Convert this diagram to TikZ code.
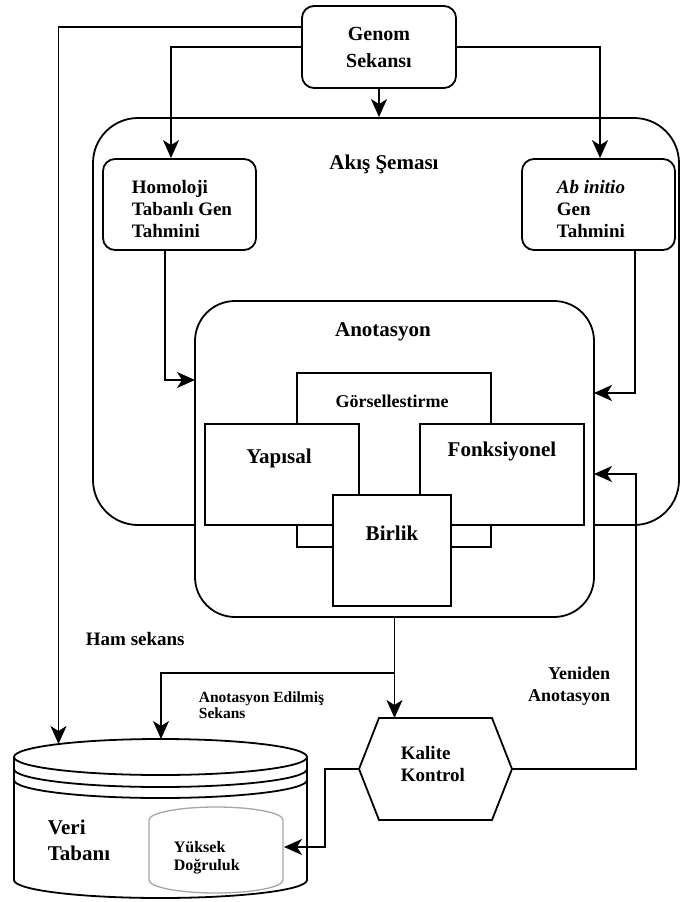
\documentclass[tikz,border=0pt]{standalone}
\usepackage{fontspec}
\setmainfont{Liberation Serif}
\usetikzlibrary{arrows.meta}
\begin{document}
\begin{tikzpicture}[x=1pt,y=-1pt, line width=1.8pt,
  arr/.style={-{Stealth[length=18pt,width=16pt,inset=5pt]}},
  rbox/.style={draw, rounded corners=12pt, fill=white, inner sep=0pt},
  sqbox/.style={draw, fill=white, inner sep=0pt},
  big/.style={font=\bfseries\fontsize{21}{24}\selectfont, inner sep=0pt},
  mid/.style={font=\bfseries\fontsize{19}{22}\selectfont, align=left, inner sep=0pt},
]
\useasboundingbox (0,0) rectangle (680,902);
\begin{scope}
\clip (0,0) rectangle (680,902);
% outer flow frame
\node[draw, rounded corners=45pt, minimum width=586pt, minimum height=407pt, inner sep=0pt] (akis) at (386,321.5) {};
\node[big] (akisT) at (384,164) {Akış Şeması};
% top boxes
\node[rbox, minimum width=154pt, minimum height=82pt] (genom) at (379,47) {};
\node[font=\bfseries\fontsize{20}{27}\selectfont, align=center, inner sep=0pt] (genomT) at (379,47) {Genom\\Sekansı};
\node[rbox, minimum width=153pt, minimum height=91pt] (homo) at (179.5,204.5) {};
\node[mid, anchor=west] (homoT) at (131,209) {Homoloji\\Tabanlı Gen\\Tahmini};
\node[rbox, minimum width=153pt, minimum height=91pt] (abin) at (598.5,204.5) {};
\node[mid, anchor=west] (abinT) at (556,209) {\textit{Ab initio}\\Gen\\Tahmini};
% annotation block
\node[draw, fill=white, rounded corners=40pt, minimum width=399pt, minimum height=316pt, inner sep=0pt] (anot) at (394.5,459) {};
\node[big] (anotT) at (383,332) {Anotasyon};
\node[sqbox, minimum width=194pt, minimum height=174pt] (gors) at (394,460) {};
\node[font=\bfseries\fontsize{18}{20}\selectfont, inner sep=0pt] (gorsT) at (392,401) {Görsellestirme};
\node[sqbox, minimum width=154pt, minimum height=101pt] (yap) at (282,474.5) {};
\node[big] (yapT) at (279,458) {Yapısal};
\node[sqbox, minimum width=164pt, minimum height=101pt] (fonk) at (502,474.5) {};
\node[big] (fonkT) at (502,451) {Fonksiyonel};
\node[sqbox, minimum width=118pt, minimum height=111pt] (birlik) at (392,550.5) {};
\node[big] (birlikT) at (392,533) {Birlik};
% connectors from genome
\coordinate (dbham) at (58.5,744);
\coordinate (dbann) at (161,739);
\draw[arr] ([yshift=20pt]genom.west) -| (dbham);
\draw[arr] (genom.west) -| ([xshift=-8.5pt]homo.north);
\draw[arr] (genom.east) -| ([xshift=1.5pt]abin.north);
\draw[arr] (genom.south) -- (genom.south |- akis.north);
\coordinate (anotL) at (195,380);
\coordinate (anotR1) at (594,393);
\coordinate (anotR2) at (594,474);
\draw[arr] ([xshift=-14.5pt]homo.south) |- (anotL);
\draw[arr] ([xshift=36.5pt]abin.south) |- (anotR1);
% quality control hexagon
\coordinate (kalL) at (359,769);
\coordinate (kalR) at (512,769);
\coordinate (kalT) at (394.5,718);
\draw[fill=white] (kalL) -- (379,718) -- (492,718) -- (kalR) -- (492,820) -- (379,820) -- cycle;
\node[mid, anchor=west] (kal) at (400,764) {Kalite\\Kontrol};
\draw[arr] (anot.south) -- (kalT);
\coordinate (br) at (394.5,673);
\draw[arr] (br) -| (dbann);
\draw[arr] (kalR) -| (636,474) -- (anotR2);
% database
\draw[fill=white] (14,757) -- (14,880) arc[start angle=180,end angle=360,x radius=146.5pt,y radius=18pt] -- (307,757);
\draw[fill=white] (160.5,757) ellipse [x radius=146.5pt, y radius=18pt];
\draw (14,769) arc[start angle=180,end angle=360,x radius=146.5pt,y radius=18pt];
\draw (14,780) arc[start angle=180,end angle=360,x radius=146.5pt,y radius=18pt];
\node[inner sep=0pt] (db) at (160.5,820) {};
\node[big, align=left, font=\bfseries\fontsize{21}{26}\selectfont, anchor=west] (dbT) at (47,840) {Veri\\Tabanı};
% high accuracy inner cylinder
\draw[gray!70, line width=1.3pt] (149,880) -- (149,820) arc[start angle=180,end angle=0,x radius=67pt,y radius=13pt] -- (283,880) arc[start angle=0,end angle=-180,x radius=67pt,y radius=13pt];
\coordinate (yukR) at (284,847);
\node[font=\bfseries\fontsize{16}{18}\selectfont, align=left, anchor=west, inner sep=0pt] (yuk) at (173,858) {Yüksek\\Doğruluk};
\draw[arr] (kalL) -- (325,769) |- (yukR);
% labels
\node[mid, anchor=west] (ham) at (85,639) {Ham sekans};
\node[font=\bfseries\fontsize{15.5}{16}\selectfont, align=left, anchor=west, inner sep=0pt] (annseq) at (198,705) {Anotasyon Edilmiş\\Sekans};
\node[font=\bfseries\fontsize{18}{22}\selectfont, align=right, anchor=east, inner sep=0pt] (yen) at (611,686) {Yeniden\\Anotasyon};
\end{scope}
\end{tikzpicture}
\end{document}
